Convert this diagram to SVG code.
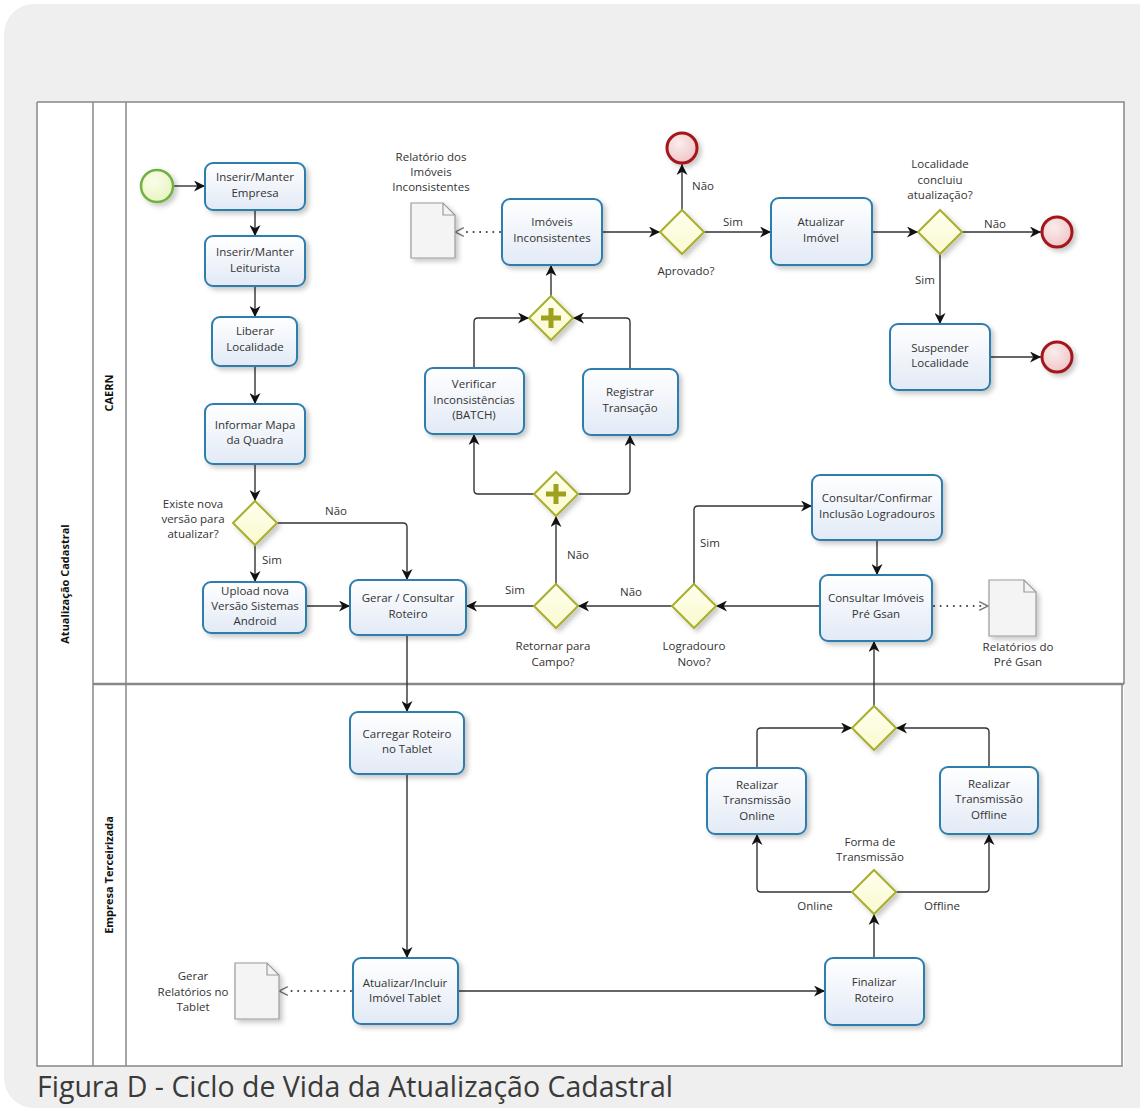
<svg xmlns="http://www.w3.org/2000/svg" width="1140" height="1113" viewBox="0 0 1140 1113">
<defs>
<style>
.t{font-family:"Open Sans","Noto Sans",sans-serif;font-size:11.5px;fill:#333;text-anchor:middle}
.lbl{font-family:"Open Sans","Noto Sans",sans-serif;font-size:11.5px;fill:#333;text-anchor:middle}
.lane{font-family:"Open Sans","Noto Sans",sans-serif;font-size:11px;font-weight:bold;fill:#111;text-anchor:middle}
.task{fill:url(#gTask);stroke:#2f7ead;stroke-width:2;filter:url(#sh)}
.gw{fill:url(#gGw);stroke:#a9ae2f;stroke-width:2;filter:url(#sh)}
.plus{stroke:#9da11d;stroke-width:5;fill:none}
.end{fill:url(#gEnd);stroke:#a3181c;stroke-width:3;filter:url(#sh)}
.start{fill:url(#gStart);stroke:#6fb13f;stroke-width:2.5;filter:url(#sh)}
.doc{fill:#f4f4f4;stroke:#9a9a9a;stroke-width:1.2;filter:url(#sh)}
.c{fill:none;stroke:#333;stroke-width:1.4;marker-end:url(#arr)}
.d{fill:none;stroke:#444;stroke-width:2;stroke-dasharray:0.1 6.5;stroke-linecap:round}
.frame{fill:none;stroke:#888;stroke-width:1.5}
</style>
<linearGradient id="gTask" x1="0" y1="0" x2="0" y2="1"><stop offset="0" stop-color="#ffffff"/><stop offset="1" stop-color="#e2eaf6"/></linearGradient>
<linearGradient id="gGw" x1="0" y1="0" x2="0" y2="1"><stop offset="0" stop-color="#ffffee"/><stop offset="1" stop-color="#f9f9cf"/></linearGradient>
<radialGradient id="gEnd" cx="0.4" cy="0.35" r="0.7"><stop offset="0" stop-color="#fbecec"/><stop offset="1" stop-color="#f0c4c6"/></radialGradient>
<radialGradient id="gStart" cx="0.4" cy="0.35" r="0.7"><stop offset="0" stop-color="#fbfde9"/><stop offset="1" stop-color="#e6f4c0"/></radialGradient>
<filter id="sh" x="-20%" y="-20%" width="150%" height="150%"><feDropShadow dx="3" dy="3" stdDeviation="2.5" flood-color="#000" flood-opacity="0.22"/></filter>
<marker id="arr" viewBox="0 0 10 10" refX="10" refY="5" markerWidth="11" markerHeight="11" markerUnits="userSpaceOnUse" orient="auto"><path d="M0,0 L10,5 L0,10 L3,5 Z" fill="#111"/></marker>
<marker id="open" viewBox="0 0 10 10" refX="9" refY="5" markerWidth="11" markerHeight="11" markerUnits="userSpaceOnUse" orient="auto"><path d="M1,1 L9,5 L1,9" fill="none" stroke="#777" stroke-width="1.3"/></marker>
</defs>

<rect x="0" y="0" width="1140" height="1113" fill="#ffffff"/>
<rect x="4" y="4" width="1160" height="1104" rx="30" fill="#efefef"/>

<g id="pool">
<rect x="37" y="102" width="1087" height="964" fill="#ffffff"/>
<path class="frame" d="M37,102 H1124 V684 M1122,684 V1066 H37 V102 M93,102 V1066 M126,102 V1066"/>
<path d="M93,684 H1124" stroke="#888" stroke-width="2.5" fill="none"/>
<text class="lane" transform="translate(69,584) rotate(-90)">Atualização Cadastral</text>
<text class="lane" transform="translate(113,393) rotate(-90)">CAERN</text>
<text class="lane" transform="translate(113,875) rotate(-90)">Empresa Terceirizada</text>
</g>

<g id="connectors">
<path class="c" d="M173,186 H205"/>
<path class="c" d="M255,210 V236"/>
<path class="c" d="M255,286 V317"/>
<path class="c" d="M255,366 V404"/>
<path class="c" d="M255,464 V501"/>
<path class="c" d="M255,545 V582"/>
<path class="c" d="M277,523 H403 Q407,523 407,527 V580"/>
<path class="c" d="M306,606 H350"/>
<path class="c" d="M534,606 H466"/>
<path class="c" d="M556,584 V516"/>
<path class="c" d="M672,606 H578"/>
<path class="c" d="M694,584 V510 Q694,506 698,506 H812"/>
<path class="c" d="M877,540 V575"/>
<path class="c" d="M820,606 H716"/>
<path class="d" d="M934,606 H984"/>
<path d="M980,606 H988" fill="none" stroke="none" marker-end="url(#open)"/>
<path class="c" d="M534,494 H478 Q474,494 474,490 V434"/>
<path class="c" d="M578,494 H626 Q630,494 630,490 V435"/>
<path class="c" d="M474,368 V322 Q474,318 478,318 H529"/>
<path class="c" d="M630,369 V322 Q630,318 626,318 H573"/>
<path class="c" d="M551,296 V265"/>
<path class="d" d="M500,232 H462"/>
<path d="M462,232 H455" fill="none" stroke="none" marker-end="url(#open)"/>
<path class="c" d="M602,232 H660"/>
<path class="c" d="M682,210 V164"/>
<path class="c" d="M704,232 H771"/>
<path class="c" d="M872,232 H918"/>
<path class="c" d="M962,232 H1041"/>
<path class="c" d="M940,254 V324"/>
<path class="c" d="M990,357 H1041"/>
<path class="c" d="M407,635 V712"/>
<path class="c" d="M407,774 V958"/>
<path class="d" d="M351,991 H286"/>
<path d="M286,991 H279" fill="none" stroke="none" marker-end="url(#open)"/>
<path class="c" d="M458,991 H825"/>
<path class="c" d="M874,958 V914"/>
<path class="c" d="M852,892 H761 Q757,892 757,888 V834"/>
<path class="c" d="M896,892 H985 Q989,892 989,888 V834"/>
<path class="c" d="M757,768 V732 Q757,728 761,728 H852"/>
<path class="c" d="M989,767 V732 Q989,728 985,728 H896"/>
<path class="c" d="M874,706 V641"/>
<text class="lbl" x="272" y="564">Sim</text>
<text class="lbl" x="336" y="515">Não</text>
<text class="lbl" x="515" y="594">Sim</text>
<text class="lbl" x="578" y="559">Não</text>
<text class="lbl" x="631" y="596">Não</text>
<text class="lbl" x="710" y="547">Sim</text>
<text class="lbl" x="703" y="190">Não</text>
<text class="lbl" x="733" y="226">Sim</text>
<text class="lbl" x="995" y="228">Não</text>
<text class="lbl" x="925" y="284">Sim</text>
<text class="lbl" x="815" y="910">Online</text>
<text class="lbl" x="942" y="910">Offline</text>
</g>

<g id="start"><circle class="start" cx="157" cy="186" r="16"/></g>

<g id="t-empresa"><rect class="task" x="205" y="163" width="100" height="47" rx="8"/><text class="t" x="255" y="181">Inserir/Manter</text><text class="t" x="255" y="197">Empresa</text></g>
<g id="t-leiturista"><rect class="task" x="205" y="236" width="100" height="50" rx="8"/><text class="t" x="255" y="256">Inserir/Manter</text><text class="t" x="255" y="272">Leiturista</text></g>
<g id="t-liberar"><rect class="task" x="212" y="317" width="85" height="49" rx="8"/><text class="t" x="255" y="335">Liberar</text><text class="t" x="255" y="351">Localidade</text></g>
<g id="t-mapa"><rect class="task" x="205" y="404" width="100" height="60" rx="8"/><text class="t" x="255" y="429">Informar Mapa</text><text class="t" x="255" y="444">da Quadra</text></g>
<g id="g-versao"><path class="gw" d="M255,501 L277,523 L255,545 L233,523 Z"/><text class="lbl" x="193" y="508">Existe nova</text><text class="lbl" x="193" y="523">versão para</text><text class="lbl" x="193" y="538">atualizar?</text></g>
<g id="t-upload"><rect class="task" x="203" y="582" width="103" height="51" rx="8"/><text class="t" x="255" y="595">Upload nova</text><text class="t" x="255" y="610">Versão Sistemas</text><text class="t" x="255" y="625">Android</text></g>
<g id="t-gerar"><rect class="task" x="350" y="580" width="116" height="55" rx="8"/><text class="t" x="408" y="602">Gerar / Consultar</text><text class="t" x="408" y="618">Roteiro</text></g>
<g id="g-retornar"><path class="gw" d="M556,584 L578,606 L556,628 L534,606 Z"/><text class="lbl" x="553" y="650">Retornar para</text><text class="lbl" x="553" y="666">Campo?</text></g>
<g id="g-logradouro"><path class="gw" d="M694,584 L716,606 L694,628 L672,606 Z"/><text class="lbl" x="694" y="650">Logradouro</text><text class="lbl" x="694" y="666">Novo?</text></g>
<g id="t-confirmar"><rect class="task" x="812" y="475" width="130" height="65" rx="8"/><text class="t" x="877" y="502">Consultar/Confirmar</text><text class="t" x="877" y="518">Inclusão Logradouros</text></g>
<g id="t-pregsan"><rect class="task" x="820" y="575" width="112" height="66" rx="8"/><text class="t" x="876" y="602">Consultar Imóveis</text><text class="t" x="876" y="618">Pré Gsan</text></g>
<g id="d-pregsan"><path class="doc" d="M989,580 H1024 L1036,592 V636 H989 Z"/><path d="M1024,580 V592 H1036" fill="none" stroke="#9a9a9a" stroke-width="1.2"/><text class="lbl" x="1018" y="651">Relatórios do</text><text class="lbl" x="1018" y="666">Pré Gsan</text></g>
<g id="p-split"><path class="gw" d="M556,472 L578,494 L556,516 L534,494 Z"/><path class="plus" d="M546,494 H566 M556,484 V504"/></g>
<g id="t-verificar"><rect class="task" x="425" y="368" width="99" height="66" rx="8"/><text class="t" x="474" y="388">Verificar</text><text class="t" x="474" y="404">Inconsistências</text><text class="t" x="474" y="419">(BATCH)</text></g>
<g id="t-registrar"><rect class="task" x="583" y="369" width="95" height="66" rx="8"/><text class="t" x="630" y="396">Registrar</text><text class="t" x="630" y="412">Transação</text></g>
<g id="p-join"><path class="gw" d="M551,296 L573,318 L551,340 L529,318 Z"/><path class="plus" d="M541,318 H561 M551,308 V328"/></g>
<g id="t-inconsistentes"><rect class="task" x="502" y="199" width="100" height="66" rx="8"/><text class="t" x="552" y="226">Imóveis</text><text class="t" x="552" y="242">Inconsistentes</text></g>
<g id="d-inconsistentes"><path class="doc" d="M411,203 H443 L455,215 V258 H411 Z"/><path d="M443,203 V215 H455" fill="none" stroke="#9a9a9a" stroke-width="1.2"/><text class="lbl" x="431" y="161">Relatório dos</text><text class="lbl" x="431" y="176">Imóveis</text><text class="lbl" x="431" y="191">Inconsistentes</text></g>
<g id="g-aprovado"><path class="gw" d="M682,210 L704,232 L682,254 L660,232 Z"/><text class="lbl" x="686" y="275">Aprovado?</text></g>
<g id="e-reprovado"><circle class="end" cx="682" cy="148" r="15"/></g>
<g id="t-atualizar"><rect class="task" x="771" y="198" width="101" height="67" rx="8"/><text class="t" x="821" y="226">Atualizar</text><text class="t" x="821" y="242">Imóvel</text></g>
<g id="g-localidade"><path class="gw" d="M940,210 L962,232 L940,254 L918,232 Z"/><text class="lbl" x="940" y="168">Localidade</text><text class="lbl" x="940" y="184">concluiu</text><text class="lbl" x="940" y="199">atualização?</text></g>
<g id="e-nao"><circle class="end" cx="1057" cy="232" r="15"/></g>
<g id="t-suspender"><rect class="task" x="890" y="324" width="100" height="66" rx="8"/><text class="t" x="940" y="352">Suspender</text><text class="t" x="940" y="367">Localidade</text></g>
<g id="e-suspender"><circle class="end" cx="1057" cy="357" r="15"/></g>

<g id="t-carregar"><rect class="task" x="350" y="712" width="114" height="62" rx="8"/><text class="t" x="407" y="738">Carregar Roteiro</text><text class="t" x="407" y="753">no Tablet</text></g>
<g id="t-incluir"><rect class="task" x="353" y="958" width="105" height="66" rx="8"/><text class="t" x="405" y="987">Atualizar/Incluir</text><text class="t" x="405" y="1002">Imóvel Tablet</text></g>
<g id="d-tablet"><path class="doc" d="M235,963 H267 L279,975 V1019 H235 Z"/><path d="M267,963 V975 H279" fill="none" stroke="#9a9a9a" stroke-width="1.2"/><text class="lbl" x="193" y="980">Gerar</text><text class="lbl" x="193" y="996">Relatórios no</text><text class="lbl" x="193" y="1011">Tablet</text></g>
<g id="t-finalizar"><rect class="task" x="825" y="958" width="99" height="67" rx="8"/><text class="t" x="874" y="986">Finalizar</text><text class="t" x="874" y="1002">Roteiro</text></g>
<g id="g-forma"><path class="gw" d="M874,870 L896,892 L874,914 L852,892 Z"/><text class="lbl" x="870" y="846">Forma de</text><text class="lbl" x="870" y="861">Transmissão</text></g>
<g id="t-online"><rect class="task" x="707" y="768" width="99" height="66" rx="8"/><text class="t" x="757" y="789">Realizar</text><text class="t" x="757" y="804">Transmissão</text><text class="t" x="757" y="820">Online</text></g>
<g id="t-offline"><rect class="task" x="940" y="767" width="98" height="67" rx="8"/><text class="t" x="989" y="788">Realizar</text><text class="t" x="989" y="803">Transmissão</text><text class="t" x="989" y="819">Offline</text></g>
<g id="g-merge"><path class="gw" d="M874,706 L896,728 L874,750 L852,728 Z"/></g>

<text x="37" y="1097" font-family="'Open Sans','Noto Sans',sans-serif" font-size="28.5" fill="#3a3a3a">Figura D - Ciclo de Vida da Atualização Cadastral</text>
</svg>
